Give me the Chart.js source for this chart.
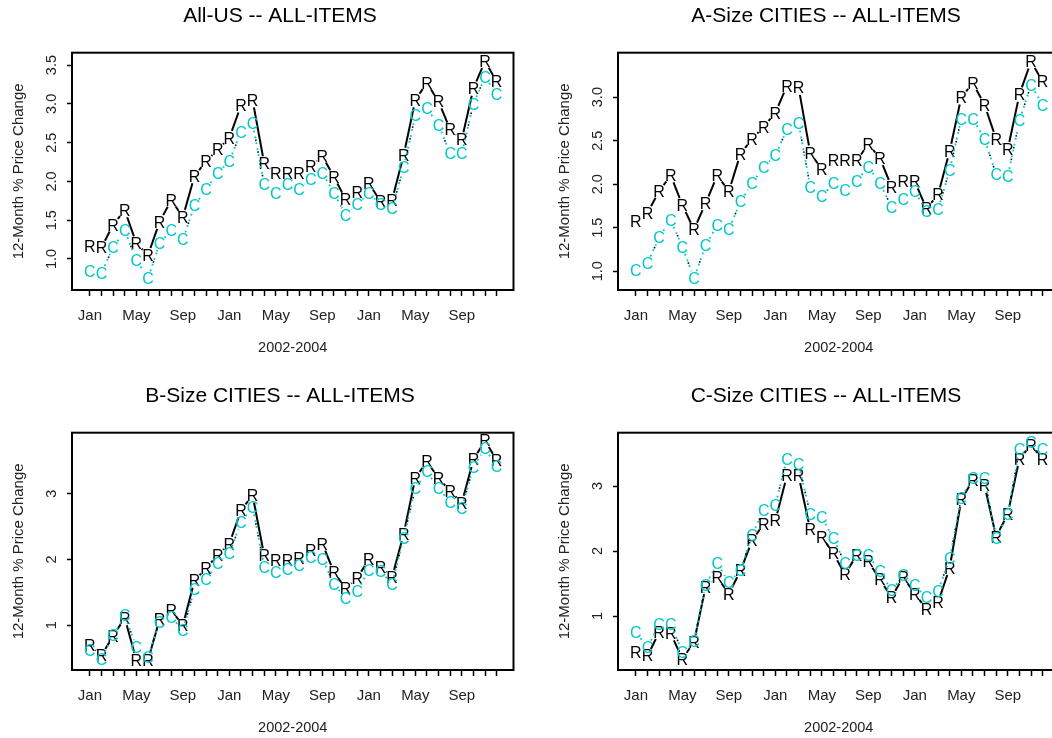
<!DOCTYPE html>
<html><head><meta charset="utf-8">
<script src="https://cdn.jsdelivr.net/npm/chart.js@4/dist/chart.umd.min.js"></script>
<style>
html,body{margin:0;padding:0;background:#fff;overflow:hidden;width:1052px;height:738px;position:relative}
.p{position:absolute;width:546px;height:380px}
</style></head><body>
<div class="p" style="left:0;top:0"><canvas id="c1"></canvas></div>
<div class="p" style="left:546px;top:0"><canvas id="c2"></canvas></div>
<div class="p" style="left:0;top:380px"><canvas id="c3"></canvas></div>
<div class="p" style="left:546px;top:380px"><canvas id="c4"></canvas></div>
<script>
// ---- data ----
const months = ['Jan','Feb','Mar','Apr','May','Jun','Jul','Aug','Sep','Oct','Nov','Dec',
                'Jan','Feb','Mar','Apr','May','Jun','Jul','Aug','Sep','Oct','Nov','Dec',
                'Jan','Feb','Mar','Apr','May','Jun','Jul','Aug','Sep','Oct','Nov','Dec'];
const xAxisTitle = '2002-2004';
const yAxisTitle = '12-Month % Price Change';
const titles = ['All-US -- ALL-ITEMS','A-Size CITIES -- ALL-ITEMS','B-Size CITIES -- ALL-ITEMS','C-Size CITIES -- ALL-ITEMS'];

const usR = [1.17,1.15,1.44,1.63,1.20,1.05,1.48,1.76,1.54,2.07,2.26,2.41,2.56,2.98,3.05,2.23,2.10,2.11,2.11,2.20,2.33,2.06,1.77,1.86,1.98,1.74,1.76,2.34,3.05,3.27,3.03,2.67,2.54,3.20,3.55,3.29];
const usC = [0.84,0.82,1.15,1.37,0.98,0.75,1.20,1.37,1.25,1.69,1.90,2.11,2.26,2.64,2.75,1.96,1.85,1.96,1.90,2.03,2.11,1.85,1.57,1.70,1.85,1.70,1.65,2.18,2.85,2.94,2.73,2.36,2.36,3.00,3.35,3.12];
const aR = [1.57,1.67,1.92,2.10,1.76,1.48,1.78,2.10,1.92,2.35,2.52,2.66,2.82,3.13,3.11,2.36,2.17,2.27,2.27,2.27,2.46,2.30,1.97,2.03,2.03,1.72,1.88,2.38,3.00,3.16,2.91,2.52,2.40,3.03,3.41,3.18];
const aC = [1.01,1.09,1.39,1.59,1.28,0.92,1.30,1.53,1.48,1.80,2.01,2.20,2.33,2.63,2.70,1.97,1.86,2.01,1.93,2.04,2.20,2.01,1.74,1.83,1.92,1.69,1.71,2.16,2.75,2.75,2.52,2.11,2.09,2.73,3.14,2.91];
const bR = [0.70,0.54,0.84,1.11,0.47,0.47,1.09,1.23,1.00,1.68,1.87,2.07,2.24,2.75,2.98,2.06,1.99,1.99,2.02,2.14,2.24,1.81,1.56,1.72,2.00,1.89,1.73,2.39,3.24,3.49,3.24,3.04,2.86,3.52,3.81,3.51];
const bC = [0.62,0.49,0.85,1.15,0.67,0.52,1.05,1.13,0.92,1.55,1.70,1.94,2.09,2.57,2.80,1.89,1.81,1.86,1.91,2.04,2.01,1.63,1.41,1.52,1.84,1.82,1.63,2.33,3.08,3.34,3.08,2.88,2.78,3.41,3.69,3.42];
const cR = [0.45,0.39,0.75,0.73,0.34,0.60,1.45,1.60,1.34,1.70,2.16,2.42,2.47,3.16,3.16,2.33,2.22,1.96,1.64,1.94,1.84,1.56,1.29,1.60,1.34,1.11,1.21,1.74,2.79,3.09,3.01,2.22,2.57,3.42,3.63,3.42];
const cC = [0.75,0.52,0.87,0.87,0.45,0.61,1.48,1.81,1.52,1.70,2.25,2.63,2.71,3.42,3.34,2.57,2.52,2.19,1.81,1.94,1.93,1.69,1.39,1.63,1.47,1.29,1.38,1.89,2.82,3.12,3.12,2.19,2.57,3.57,3.67,3.57];

const yTicks1 = [1.0,1.5,2.0,2.5,3.0,3.5];
const yLabels1 = ['1.0','1.5','2.0','2.5','3.0','3.5'];
const yTicks2 = [1.0,1.5,2.0,2.5,3.0];
const yLabels2 = ['1.0','1.5','2.0','2.5','3.0'];
const yTicks3 = [1,2,3];
const yLabels3 = ['1','2','3'];
const yTicks4 = [1,2,3];
const yLabels4 = ['1','2','3'];
const yRange1 = [0.60,3.66];
const yRange2 = [0.785,3.51];
const yRange3 = [0.32,3.93];
const yRange4 = [0.17,3.82];

// ---- styling ----
const FONT = "'Liberation Sans', Arial, Helvetica, sans-serif";
const CYAN = 'rgb(0,200,200)';
const YTICK_SIZE = 14.5;

const measureCtx = document.createElement('canvas').getContext('2d');
function textW(t, size){ measureCtx.font = size + 'px ' + FONT; return measureCtx.measureText(t).width; }

const rcPlugin = {
  id: 'rc',
  afterDatasetsDraw(chart, args, opts) {
    const ctx = chart.ctx;
    const a = chart.chartArea;
    ctx.save();
    chart.data.datasets.forEach((ds, di) => {
      const pts = chart.getDatasetMeta(di).data;
      const gap = 7.5;
      ds.rcPasses.forEach(ps => {
        ctx.save();
        ctx.strokeStyle = ps.color; ctx.lineWidth = ps.width;
        ctx.setLineDash(ps.dash); ctx.lineDashOffset = ps.offset || 0;
        ctx.lineCap = 'butt';
        for (let i = 0; i < pts.length - 1; i++) {
          const p = pts[i], q = pts[i+1];
          const dx = q.x - p.x, dy = q.y - p.y;
          const d = Math.hypot(dx, dy);
          if (d <= 2*gap) continue;
          const ux = dx/d, uy = dy/d;
          ctx.beginPath();
          ctx.moveTo(p.x + ux*gap, p.y + uy*gap);
          ctx.lineTo(q.x - ux*gap, q.y - uy*gap);
          ctx.stroke();
        }
        ctx.restore();
      });
      ctx.fillStyle = ds.rcColor;
      ctx.font = '16px ' + FONT;
      ctx.textAlign = 'center';
      ctx.textBaseline = 'alphabetic';
      pts.forEach(p => ctx.fillText(ds.rcLetter, p.x, p.y + 5.8));
    });
    // plot box
    ctx.lineWidth = 2; ctx.strokeStyle = '#000'; ctx.setLineDash([]);
    ctx.strokeRect(a.left, a.top, a.right - a.left, a.bottom - a.top);
    // panel title
    ctx.fillStyle = '#000';
    ctx.font = '21px ' + FONT;
    ctx.textAlign = 'center'; ctx.textBaseline = 'middle';
    ctx.fillText(opts.text, chart.width/2 + 7, 16);
    ctx.restore();
  }
};

function makeChart(id, title, rVals, cVals, yTicks, yLabels, yRange) {
  const widest = Math.max(...yLabels.map(l => textW(l, YTICK_SIZE)));
  const pad = 15.3 - widest/2;
  return new Chart(document.getElementById(id), {
    type: 'line',
    data: {
      datasets: [
        { label: 'R', data: rVals.map((v,i)=>({x:i+1, y:v})), showLine:false, pointRadius:0,
          rcLetter:'R', rcColor:'#000',
          rcPasses:[{color:'#000', width:2, dash:[]}] },
        { label: 'C', data: cVals.map((v,i)=>({x:i+1, y:v})), showLine:false, pointRadius:0,
          rcLetter:'C', rcColor:CYAN,
          rcPasses:[{color:CYAN, width:1.8, dash:[1.8,4.2]},{color:'#111', width:1.6, dash:[1.6,10.4], offset:3}] }
      ]
    },
    options: {
      responsive:true, maintainAspectRatio:false, animation:false, events:[],
      devicePixelRatio: 1,
      layout: { padding: { top: 52.7, right: 32.5, bottom: 0, left: 0 } },
      plugins: { legend:{display:false}, tooltip:{enabled:false}, title:{display:false}, rc:{text:title} },
      scales: {
        x: {
          type:'linear', min:-0.54, max:37.45,
          afterBuildTicks: s => { s.ticks = months.map((m,i)=>({value:i+1})); },
          afterFit: s => { s.height = 90; },
          grid: { drawOnChartArea:false, drawTicks:true, tickLength:6, tickWidth:1.5, tickColor:'#000' },
          border: { display:false },
          ticks: { autoSkip:false, minRotation:0, maxRotation:0, padding:11, color:'#222',
                   font:{family:FONT, size:15}, callback:(v,i)=> (i%4===0 ? months[i] : '') },
          title: { display:true, text:xAxisTitle, color:'#222', font:{family:FONT, size:14.5}, padding:{top:0, bottom:23.6} }
        },
        y: {
          type:'linear', min:yRange[0], max:yRange[1],
          afterBuildTicks: s => { s.ticks = yTicks.map(v=>({value:v})); },
          afterFit: s => { s.width = 72; },
          grid: { drawOnChartArea:false, drawTicks:true, tickLength:5, tickWidth:1.5, tickColor:'#000' },
          border: { display:false },
          ticks: { minRotation:90, maxRotation:90, crossAlign:'center', padding:pad, color:'#222',
                   font:{family:FONT, size:YTICK_SIZE}, callback:(v,i)=> yLabels[i] },
          title: { display:true, text:yAxisTitle, color:'#222', font:{family:FONT, size:15}, padding:{top:10, bottom:0} }
        }
      }
    },
    plugins: [rcPlugin]
  });
}

makeChart('c1', titles[0], usR, usC, yTicks1, yLabels1, yRange1);
makeChart('c2', titles[1], aR, aC, yTicks2, yLabels2, yRange2);
makeChart('c3', titles[2], bR, bC, yTicks3, yLabels3, yRange3);
makeChart('c4', titles[3], cR, cC, yTicks4, yLabels4, yRange4);
</script>
</body></html>
